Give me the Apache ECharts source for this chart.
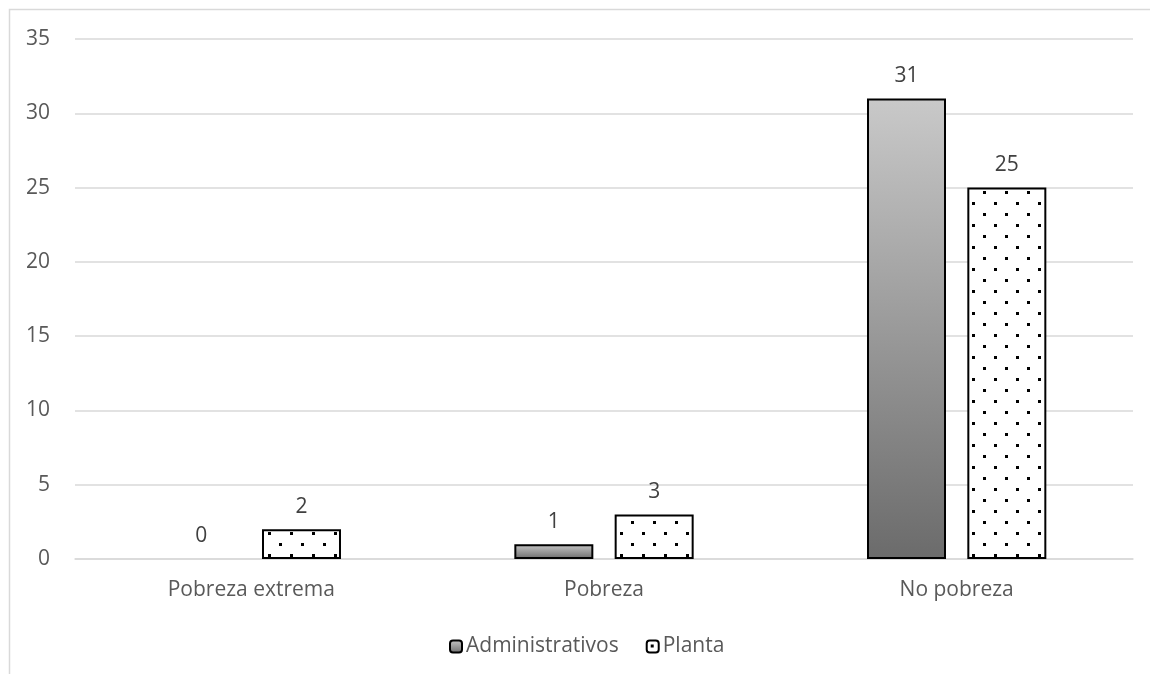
<!DOCTYPE html>
<html>
<head>
<meta charset="utf-8">
<script src="https://cdn.jsdelivr.net/npm/echarts@6/dist/echarts.min.js"></script>
<style>
html,body{margin:0;padding:0;background:#fff;}
#chart{width:1150px;height:674px;}
</style>
</head>
<body>
<div id="chart"></div>
<script>
const categories = ['Pobreza extrema', 'Pobreza', 'No pobreza'];
const administrativos = [0, 1, 31];
const planta = [2, 3, 25];
const yTicks = { min: 0, max: 35, interval: 5 };

const FONT = 'Open Sans';
const FS = 21;

function makeDotPattern() {
  const c = document.createElement('canvas');
  c.width = 22; c.height = 22;
  const ctx = c.getContext('2d');
  ctx.fillStyle = '#ffffff';
  ctx.fillRect(0, 0, 22, 22);
  ctx.fillStyle = '#000000';
  ctx.fillRect(4, 4, 3, 3);
  ctx.fillRect(15, 15, 3, 3);
  return c;
}

const chart = echarts.init(document.getElementById('chart'), null, { renderer: 'canvas' });

const gradient = new echarts.graphic.LinearGradient(0, 0, 0, 1, [
  { offset: 0, color: '#c9c9c9' },
  { offset: 1, color: '#6b6b6b' }
]);

// hide outline of zero-height bars (Excel draws nothing for 0)
function toItems(arr) {
  return arr.map(v => v === 0 ? { value: v, itemStyle: { borderWidth: 0 } } : v);
}

const labelStyle = { show: true, position: 'top', distance: 12, fontFamily: FONT, fontSize: FS, color: '#404040' };

const option = {
  animation: false,
  backgroundColor: '#ffffff',
  textStyle: { fontFamily: FONT },
  graphic: [{
    type: 'rect',
    shape: { x: 9.5, y: 9.5, width: 1300, height: 1000 },
    style: { fill: 'none', stroke: '#d9d9d9', lineWidth: 1.5 },
    silent: true,
    z: -1
  }],
  grid: { left: 75, right: 17, top: 39, bottom: 115, containLabel: false },
  legend: {
    left: 444,
    top: 631,
    itemWidth: 12,
    itemHeight: 12,
    itemGap: 27,
    textStyle: { fontFamily: FONT, fontSize: FS, color: '#595959', padding: [0, 0, 0, -1] },
    data: ['Administrativos', 'Planta']
  },
  xAxis: {
    type: 'category',
    data: categories,
    axisLine: { show: true, lineStyle: { color: '#d9d9d9', width: 1.5 } },
    axisTick: { show: false },
    axisLabel: { fontFamily: FONT, fontSize: FS, color: '#595959', margin: 21 }
  },
  yAxis: {
    type: 'value',
    min: yTicks.min,
    max: yTicks.max,
    interval: yTicks.interval,
    axisLine: { show: false },
    axisTick: { show: false },
    splitLine: { lineStyle: { color: '#d9d9d9', width: 1.5 } },
    axisLabel: { fontFamily: FONT, fontSize: FS, color: '#595959', margin: 25 }
  },
  series: [
    {
      name: 'Administrativos',
      type: 'bar',
      data: toItems(administrativos),
      barWidth: '22.4%',
      barGap: '27%',
      itemStyle: { color: gradient, borderColor: '#000000', borderWidth: 2 },
      label: labelStyle
    },
    {
      name: 'Planta',
      type: 'bar',
      data: toItems(planta),
      barWidth: '22.4%',
      barGap: '27%',
      itemStyle: {
        color: { image: makeDotPattern(), repeat: 'repeat' },
        borderColor: '#000000',
        borderWidth: 2
      },
      label: labelStyle
    }
  ]
};

chart.setOption(option);
</script>
</body>
</html>
